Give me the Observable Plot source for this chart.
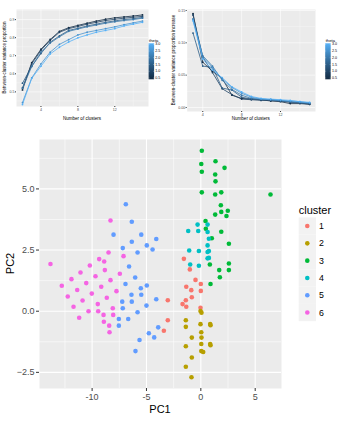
<!DOCTYPE html>
<html><head><meta charset="utf-8">
<script src="https://cdn.jsdelivr.net/npm/d3@7"></script>
<script src="https://cdn.jsdelivr.net/npm/@observablehq/plot@0.6"></script>
<style>
body{margin:0;background:#fff;}
#root{position:relative;width:342px;height:423px;overflow:hidden;font-family:"Liberation Sans",Arial,sans-serif;}
#root > svg{position:absolute;}
</style></head><body><div id="root"></div>
<script>
// ---------- data: top-left (between-cluster variance proportion) ----------
const kProp = [2,3,4,5,6,7,8,9,10,11,12,13,14,15];
const thetaValues = [0.5,1.0,1.5,2.0,2.5,3.0];
const prop_t05 = [0.511,0.662,0.736,0.790,0.835,0.855,0.868,0.880,0.892,0.902,0.910,0.915,0.920,0.926];
const prop_t10 = [0.522,0.655,0.730,0.785,0.830,0.850,0.862,0.875,0.885,0.895,0.902,0.908,0.913,0.918];
const prop_t15 = [0.548,0.642,0.712,0.775,0.810,0.840,0.852,0.865,0.875,0.885,0.893,0.900,0.905,0.912];
const prop_t20 = [0.520,0.640,0.720,0.770,0.805,0.835,0.848,0.860,0.870,0.880,0.888,0.895,0.900,0.908];
const prop_t25 = [0.441,0.577,0.655,0.720,0.763,0.789,0.815,0.830,0.840,0.850,0.860,0.872,0.882,0.892];
const prop_t30 = [0.430,0.575,0.642,0.710,0.747,0.776,0.799,0.815,0.830,0.840,0.850,0.865,0.875,0.885];
// ---------- data: top-right (increase) ----------
const kInc = [3,4,5,6,7,8,9,10,11,12,13,14,15];
const inc_t05 = [0.145,0.070,0.056,0.045,0.019,0.014,0.013,0.012,0.010,0.009,0.006,0.006,0.005];
const inc_t10 = [0.143,0.078,0.054,0.029,0.020,0.013,0.012,0.011,0.011,0.010,0.008,0.007,0.005];
const inc_t15 = [0.115,0.064,0.062,0.030,0.027,0.016,0.013,0.012,0.012,0.010,0.009,0.007,0.006];
const inc_t20 = [0.137,0.080,0.064,0.042,0.028,0.019,0.014,0.013,0.012,0.011,0.009,0.008,0.007];
const inc_t25 = [0.136,0.078,0.062,0.044,0.031,0.022,0.016,0.013,0.012,0.011,0.010,0.009,0.007];
const inc_t30 = [0.134,0.075,0.058,0.046,0.032,0.024,0.017,0.014,0.013,0.012,0.011,0.009,0.008];
// ---------- data: PCA scatter ----------
const cluster1 = [[-1.56,2.14],[-1.01,1.71],[-0.49,1.28],[0.00,1.11],[-1.34,1.00],[-0.88,0.86],[0.00,0.83],[-0.83,0.57],[-1.38,0.45],[-3.04,0.45],[-1.68,0.29],[-1.34,0.18],[-0.03,0.14],[-3.04,-0.37],[-3.40,-0.80]];
const cluster2 = [[-0.03,0.01],[0.06,-0.06],[-1.38,-0.37],[-1.38,-0.64],[-0.03,-0.53],[0.86,-0.52],[0.89,-0.57],[0.04,-0.86],[-0.83,-1.08],[0.06,-1.08],[0.04,-1.34],[-1.38,-1.43],[0.86,-1.34],[0.89,-1.39],[0.04,-1.63],[0.22,-1.67],[-0.83,-1.89],[-1.38,-2.27],[-0.86,-2.70]];
const cluster3 = [[0.09,6.56],[1.35,6.13],[0.04,6.02],[2.18,5.86],[0.09,5.70],[1.32,5.59],[1.35,5.31],[0.09,4.86],[1.32,4.77],[1.88,4.86],[6.41,4.77],[1.84,4.33],[1.88,4.06],[2.48,4.11],[1.32,3.95],[2.36,3.89],[0.43,3.69],[0.46,3.37],[1.88,3.25],[1.01,2.98],[2.58,2.76],[0.83,1.91],[2.58,1.95],[1.69,1.68],[2.58,1.68],[1.75,1.39],[0.89,1.11]];
const cluster4 = [[-0.30,3.54],[0.62,3.54],[-1.16,3.28],[-0.24,3.28],[0.62,3.24],[0.74,2.96],[0.62,2.69],[0.74,2.46],[0.62,2.42],[-1.07,2.48],[-0.18,2.46],[0.74,2.18],[0.62,2.16],[-0.98,1.91],[-0.18,1.86]];
const cluster5 = [[-6.90,4.37],[-6.35,3.66],[-8.03,3.13],[-5.48,3.13],[-4.10,2.95],[-6.35,2.84],[-4.97,2.69],[-4.44,2.52],[-7.18,2.58],[-5.82,2.40],[-6.60,1.83],[-6.04,1.38],[-6.93,1.11],[-4.97,1.05],[-5.52,0.94],[-5.48,0.67],[-6.38,0.67],[-4.10,0.49],[-7.23,0.39],[-6.35,0.39],[-5.00,0.23],[-7.18,0.12],[-5.82,-0.04],[-7.54,-0.32],[-6.68,-0.32],[-7.54,-0.59],[-3.92,-0.66],[-4.78,-0.90],[-4.29,-1.07],[-5.64,-1.18],[-6.01,-1.63]];
const cluster6 = [[-8.31,3.71],[-8.49,2.40],[-7.11,2.25],[-9.35,2.13],[-8.89,2.03],[-13.83,1.93],[-10.21,1.87],[-8.83,1.68],[-11.07,1.58],[-9.69,1.43],[-7.45,1.53],[-11.90,1.31],[-8.31,1.27],[-10.54,1.15],[-12.79,1.04],[-9.16,1.00],[-11.37,0.87],[-7.76,0.82],[-10.03,0.72],[-12.24,0.60],[-8.65,0.55],[-10.88,0.44],[-9.48,0.29],[-11.71,0.18],[-8.10,0.12],[-10.33,0.00],[-9.44,0.00],[-8.95,-0.15],[-8.06,-0.15],[-11.19,-0.27],[-8.92,-0.43],[-8.43,-0.59],[-8.40,-0.86]];
const clusterLabels = ["1","2","3","4","5","6"];
const clusterColors = ["#F8766D","#B79F00","#00BA38","#00BFC4","#619CFF","#F564E3"];
const pcXTicks = [-10,-5,0,5];
const pcYTicks = [-2.5,0,2.5,5];
const thetaTicks = [0.5,1.0,1.5,2.0,2.5,3.0];

// ---------- build tables ----------
const propSeries = [prop_t05,prop_t10,prop_t15,prop_t20,prop_t25,prop_t30];
const incSeries = [inc_t05,inc_t10,inc_t15,inc_t20,inc_t25,inc_t30];
const propRows = propSeries.flatMap((s,i)=>s.map((v,j)=>({k:kProp[j],theta:thetaValues[i],v})));
const incRows = incSeries.flatMap((s,i)=>s.map((v,j)=>({k:kInc[j],theta:thetaValues[i],v})));
const pcRows = [cluster1,cluster2,cluster3,cluster4,cluster5,cluster6]
  .flatMap((arr,i)=>arr.map(([x,y])=>({x,y,c:clusterLabels[i]})));

const FONT = '"Liberation Sans", Arial, sans-serif';
const thetaColor = {type:"linear", domain:[0.5,3], range:["#132B43","#56B1F7"], interpolate:"lab"};
const root = document.getElementById("root");

function place(el,left,top){ el.style.left=left+"px"; el.style.top=top+"px"; root.appendChild(el); }

function smallPanel(rows, opts){
  return Plot.plot({
    width:171, height:125,
    marginLeft:opts.ml, marginRight:opts.mr, marginTop:opts.mt, marginBottom:opts.mb,
    style:{fontFamily:FONT, background:"transparent", overflow:"visible"},
    x:{domain:opts.xd, axis:null},
    y:{domain:opts.yd, axis:null},
    color:thetaColor,
    marks:[
      Plot.frame({fill:"#EBEBEB", stroke:"none"}),
      Plot.ruleX(opts.xmin,{stroke:"white", strokeWidth:0.3}),
      Plot.ruleY(opts.ymin,{stroke:"white", strokeWidth:0.3}),
      Plot.ruleX(opts.xmaj,{stroke:"white", strokeWidth:0.6}),
      Plot.ruleY(opts.ymaj,{stroke:"white", strokeWidth:0.6}),
      Plot.line(rows,{x:"k", y:"v", z:"theta", stroke:"theta", strokeWidth:0.8}),
      Plot.dot(rows,{x:"k", y:"v", fill:"theta", r:0.9}),
      Plot.axisX({ticks:opts.xmaj, tickSize:1, tickPadding:1, fontSize:3.6, stroke:"#333", fill:"#4D4D4D", label:null, tickFormat:d=>String(d)}),
      Plot.axisY({ticks:opts.ymaj, tickSize:1, tickPadding:1, fontSize:3.6, stroke:"#333", fill:"#4D4D4D", label:null, tickFormat:opts.yf})
    ]
  });
}

const p1 = smallPanel(propRows,{ml:16, mr:23, mt:9, mb:19, xd:[1.35,15.65], yd:[0.419,0.956],
  xmaj:[4,8,12], xmin:[2,6,10,14], ymaj:[0.5,0.6,0.7,0.8,0.9], ymin:[0.45,0.55,0.65,0.75,0.85,0.95], yf:d3.format(".1f")});
place(p1,0,0);
const p2 = smallPanel(incRows,{ml:15.7, mr:27, mt:9, mb:14, xd:[2.4,15.6], yd:[-0.0062,0.1515],
  xmaj:[4,8,12], xmin:[2,6,10,14], ymaj:[0,0.05,0.10,0.15], ymin:[0.025,0.075,0.125], yf:d3.format(".2f")});
place(p2,171,0);

const p3 = Plot.plot({
  width:342, height:298,
  marginLeft:39, marginRight:61, marginTop:14, marginBottom:35,
  style:{fontFamily:FONT, background:"transparent", overflow:"visible"},
  x:{domain:[-14.84,7.42], axis:null},
  y:{domain:[-3.16,7.02], axis:null},
  color:{domain:clusterLabels, range:clusterColors},
  marks:[
    Plot.frame({fill:"#EBEBEB", stroke:"none"}),
    Plot.ruleX([-12.5,-7.5,-2.5,2.5],{stroke:"white", strokeWidth:0.55}),
    Plot.ruleY([-1.25,1.25,3.75,6.25],{stroke:"white", strokeWidth:0.55}),
    Plot.ruleX(pcXTicks,{stroke:"white", strokeWidth:1.1}),
    Plot.ruleY(pcYTicks,{stroke:"white", strokeWidth:1.1}),
    Plot.dot(pcRows,{x:"x", y:"y", fill:"c", r:2.3}),
    Plot.axisX({ticks:pcXTicks, tickSize:3, tickPadding:2, fontSize:9, stroke:"#333", fill:"#4D4D4D", label:null, tickFormat:d=>String(d)}),
    Plot.axisY({ticks:pcYTicks, tickSize:3, tickPadding:2, fontSize:9, stroke:"#333", fill:"#4D4D4D", label:null, tickFormat:d3.format(".1f")})
  ]
});
place(p3,0,125);

// ---------- overlay: titles and legends ----------
const ns = "http://www.w3.org/2000/svg";
const ov = d3.create("svg").attr("width",342).attr("height",423)
  .style("left","0px").style("top","0px").style("font-family",FONT);
function txt(x,y,s,size,opts={}){
  const t = ov.append("text").attr("x",x).attr("y",y).text(s).attr("font-size",size)
    .attr("fill",opts.fill||"#000").attr("text-anchor",opts.anchor||"start")
    .attr("dominant-baseline",opts.base||"central");
  if(opts.rot) t.attr("transform",`rotate(-90 ${x} ${y})`);
  return t;
}
txt(4,57.5,"Between-cluster variance proportion",4.5,{anchor:"middle",rot:true});
txt(82,118.5,"Number of clusters",4.56,{anchor:"middle"});
txt(173,60,"Between-cluster variance proportion increase",4.5,{anchor:"middle",rot:true});
txt(250.8,118.5,"Number of clusters",4.56,{anchor:"middle"});

// colour bars
const interp = d3.interpolateLab("#132B43","#56B1F7");
const defs = ov.append("defs");
const grad = defs.append("linearGradient").attr("id","tg").attr("x1",0).attr("y1",1).attr("x2",0).attr("y2",0);
d3.range(0,1.0001,0.1).forEach(t=>grad.append("stop").attr("offset",t).attr("stop-color",interp(t)));
function colorbar(x0){
  txt(x0+0.5,40.8,"theta",4.2);
  ov.append("rect").attr("x",x0).attr("y",43.3).attr("width",5.5).attr("height",36).attr("fill","url(#tg)");
  const yb = d3.scaleLinear().domain([0.5,3]).range([78,44.3]);
  thetaTicks.forEach(v=>{
    ov.append("line").attr("x1",x0).attr("x2",x0+1).attr("y1",yb(v)).attr("y2",yb(v)).attr("stroke","white").attr("stroke-width",0.3);
    ov.append("line").attr("x1",x0+4.5).attr("x2",x0+5.5).attr("y1",yb(v)).attr("y2",yb(v)).attr("stroke","white").attr("stroke-width",0.3);
    txt(x0+6.7,yb(v),d3.format(".1f")(v),3.6,{fill:"#000"});
  });
}
colorbar(148.6);
colorbar(325.2);

// scatter titles
txt(160,408.5,"PC1",11,{anchor:"middle"});
txt(10,263.5,"PC2",11,{anchor:"middle",rot:true});
txt(298.7,210,"cluster",11);
clusterLabels.forEach((lab,i)=>{
  const y0 = 217.4 + i*17.3;
  ov.append("rect").attr("x",298.7).attr("y",y0).attr("width",17.3).attr("height",17.3).attr("fill","#F2F2F2");
  ov.append("circle").attr("cx",307.3).attr("cy",y0+8.65).attr("r",2.3).attr("fill",clusterColors[i]);
  txt(319,y0+8.65,lab,8.8);
});
root.appendChild(ov.node());
</script></body></html>
